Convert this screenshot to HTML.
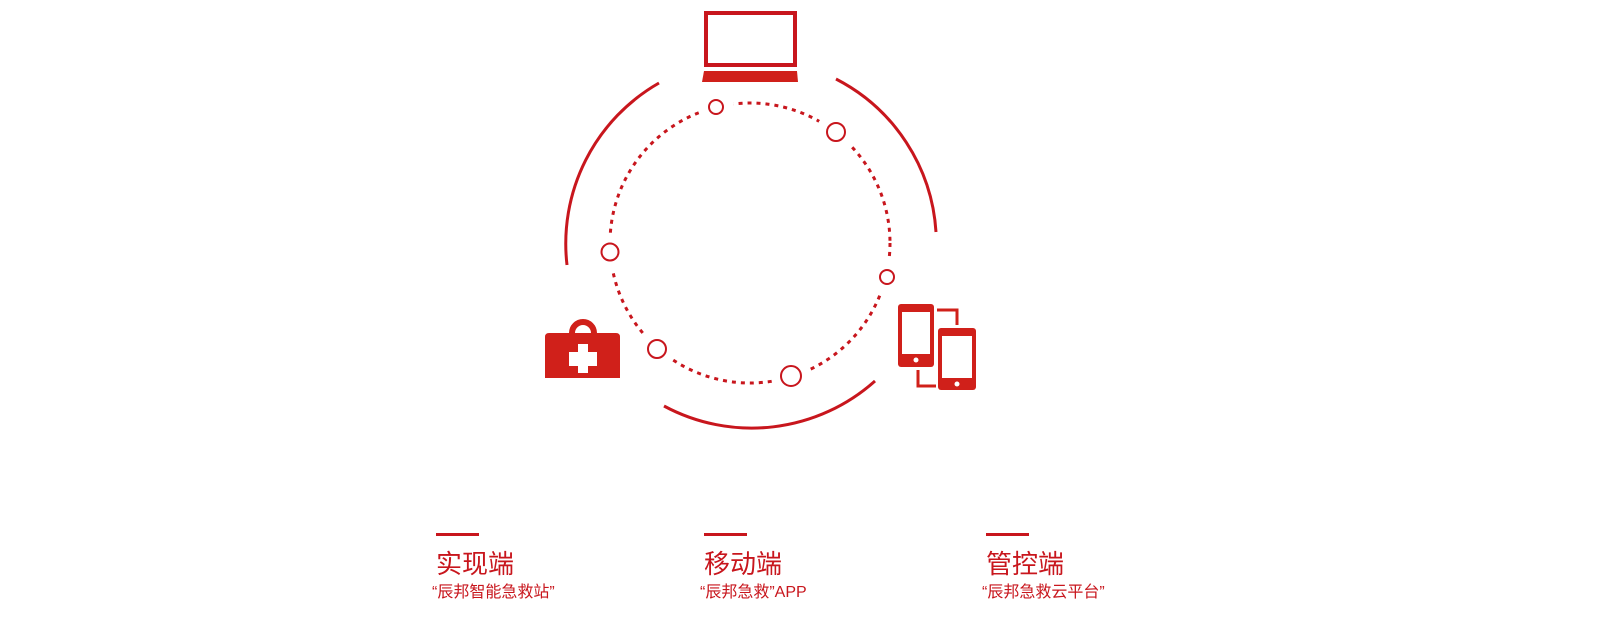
<!DOCTYPE html>
<html><head><meta charset="utf-8"><style>
body{margin:0;background:#fff;width:1600px;height:643px;overflow:hidden;position:relative;font-family:"Liberation Sans","Noto Sans CJK SC",sans-serif;color:#c8161d}
.col{position:absolute;top:533px}
.bar{width:43px;height:3px;background:#c8161d}
.t{font-size:26px;line-height:30px;margin-top:13px}
.s{font-size:16px;line-height:18px;margin-top:5px;margin-left:-4px}
</style></head><body>
<svg width="1600" height="643" style="position:absolute;left:0;top:0">
<g fill="none" stroke="#c8161d" stroke-width="3">
<path d="M567,265 A185,185 0 0 1 659,83"/>
<path d="M836,79 A185,185 0 0 1 936,232"/>
<path d="M875,381 A185,185 0 0 1 664,406"/>
<circle cx="750" cy="243" r="140" stroke-dasharray="4 5"/>
</g>
<g fill="#fff" stroke="none">
<circle cx="716" cy="107" r="18"/><circle cx="836" cy="132" r="20"/><circle cx="610" cy="252" r="19"/>
<circle cx="887" cy="277" r="18"/><circle cx="657" cy="349" r="18"/><circle cx="791" cy="376" r="18"/>
</g>
<g fill="#fff" stroke="#c8161d" stroke-width="2">
<circle cx="716" cy="107" r="7"/><circle cx="836" cy="132" r="9"/><circle cx="610" cy="252" r="8.5"/>
<circle cx="887" cy="277" r="7"/><circle cx="657" cy="349" r="9"/><circle cx="791" cy="376" r="10"/>
</g>
<rect x="706" y="13" width="89" height="52" fill="none" stroke="#c8161d" stroke-width="4"/>
<path d="M704,71 L797,71 L798,82 L702,82 Z" fill="#d0201a"/>
<path d="M572,333 A11,11 0 0 1 594,333" fill="none" stroke="#d0201a" stroke-width="6"/>
<path d="M556,333 H616 Q620,333 620,337 V378 H545 V337 Q545,333 549,333 Z" fill="#d0201a"/>
<path d="M578,344 H588 V352 H597 V366 H588 V373 H578 V366 H569 V352 H578 Z" fill="#fff"/>
<rect x="898" y="304" width="36" height="63" rx="3" fill="#d0201a"/>
<rect x="902" y="312" width="28" height="42" fill="#fff"/>
<circle cx="916" cy="360" r="2.5" fill="#fff"/>
<rect x="938" y="328" width="38" height="62" rx="3" fill="#d0201a"/>
<rect x="942" y="336" width="30" height="42" fill="#fff"/>
<circle cx="957" cy="384" r="2.5" fill="#fff"/>
<path d="M937,310 H957 V325" fill="none" stroke="#d0201a" stroke-width="3"/>
<path d="M918,370 V386 H936" fill="none" stroke="#d0201a" stroke-width="3"/>
</svg>
<div class="col" style="left:436px"><div class="bar"></div><div class="t">实现端</div><div class="s">“辰邦智能急救站”</div></div>
<div class="col" style="left:704px"><div class="bar"></div><div class="t">移动端</div><div class="s">“辰邦急救”APP</div></div>
<div class="col" style="left:986px"><div class="bar"></div><div class="t">管控端</div><div class="s">“辰邦急救云平台”</div></div>
</body></html>
